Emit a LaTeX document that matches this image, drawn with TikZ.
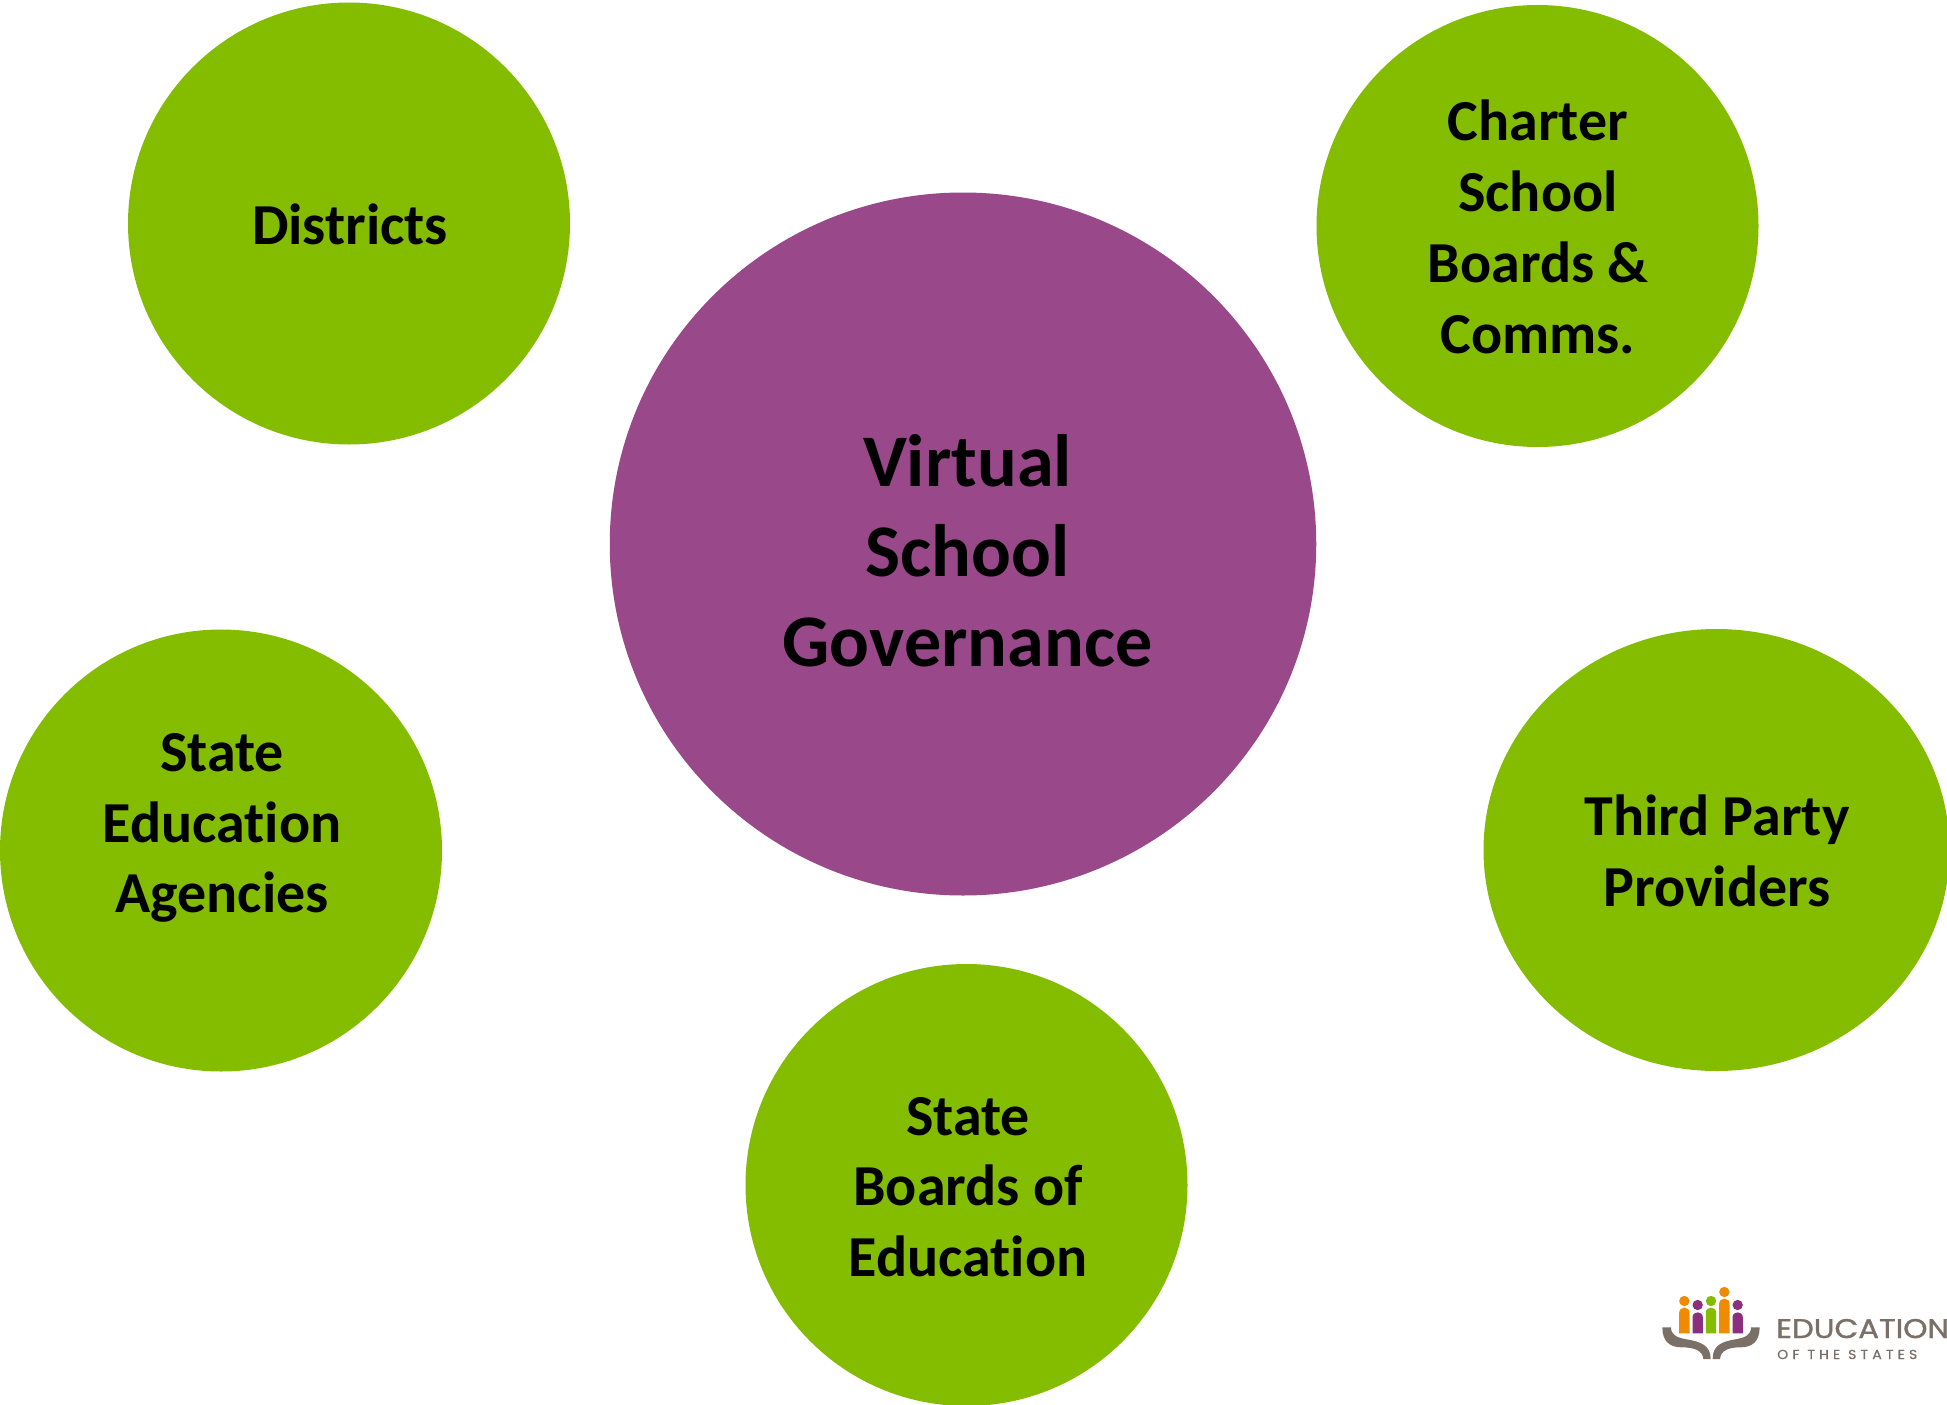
\documentclass[tikz,border=0pt]{standalone}
\usepackage{fontspec}
\setmainfont[Ligatures=NoCommon]{Carlito}
\newfontfamily\logofont[FakeStretch=1.14,FakeBold=1.2]{Poppins}
\newfontfamily\logosmall[LetterSpace=32,FakeStretch=1.08,FakeBold=0.6]{Poppins}
\usetikzlibrary{shapes.geometric}
\definecolor{bubblegreen}{HTML}{84BD00}
\definecolor{bubblepurple}{HTML}{99488A}
\definecolor{logoorange}{HTML}{F08A00}
\definecolor{logopurple}{HTML}{8B2F7E}
\definecolor{logogray}{HTML}{7A7068}
\tikzset{
  outerbubble/.style={circle,fill=bubblegreen,minimum size=442pt,inner sep=0pt},
  outertext/.style={align=center,inner sep=0pt,font=\fontsize{58}{70.8}\selectfont\bfseries},
  centertext/.style={align=center,inner sep=0pt,font=\fontsize{74.2}{90}\selectfont\bfseries}
}
\newcommand{\logoperson}[4]{%
  \fill[#4] (#1,#2) circle[radius=15.5];
  \fill[#4] (#1-15.5,190) -- (#1-15.5,#3+16) .. controls (#1-15.5,#3-4) and (#1+15.5,#3-4) .. (#1+15.5,#3+16) -- (#1+15.5,190) -- cycle;
}
\begin{document}
\begin{tikzpicture}[x=1pt,y=-1pt]
\useasboundingbox (0,0) rectangle (1947,1405);
\fill[white] (0,0) rectangle (1947,1405);
\node[outerbubble] (districts) at (349,223.5) {};
\node[outerbubble] (charter) at (1537.5,226) {};
\node[ellipse,fill=bubblepurple,minimum width=706.5pt,minimum height=703pt,inner sep=0pt] (center) at (963,544) {};
\node[outerbubble] (sea) at (221,850.5) {};
\node[ellipse,fill=bubblegreen,minimum width=466pt,minimum height=442pt,inner sep=0pt] (third) at (1716.5,850) {};
\node[outerbubble] (boards) at (966.5,1185) {};
\node[outertext] (t1) at (350,224) {Districts};
\node[outertext] (t2) at (1538,227) {Charter\\School\\Boards \&\\Comms.};
\node[centertext] (t3) at (967.5,551) {Virtual\\School\\Governance};
\node[outertext] (t4) at (222,828) {State\\Education\\Agencies};
\node[outertext] (t5) at (1717,851) {Third Party\\Providers};
\node[outertext] (t6) at (968,1187) {State\\Boards of\\Education};
\begin{scope}[shift={(1640,1270)},x=0.3333pt,y=-0.3333pt]
  \logoperson{133}{93}{112}{logoorange}
  \logoperson{173}{105}{126}{logopurple}
  \logoperson{213}{93}{112}{bubblegreen}
  \logoperson{253}{66}{85}{logoorange}
  \logoperson{293}{105}{126}{logopurple}
  \fill[logogray] (67,172) -- (93,172) .. controls (93,195) and (110,203) .. (140,208) .. controls (180,215) and (212,225) .. (212,267) -- (190,267) .. controls (188,240) and (160,232) .. (125,232) .. controls (90,232) and (67,215) .. (67,172) -- cycle;
  \fill[logogray] (359,172) -- (333,172) .. controls (333,195) and (316,203) .. (286,208) .. controls (246,215) and (218,225) .. (218,267) -- (240,267) .. controls (242,240) and (268,232) .. (301,232) .. controls (336,232) and (359,215) .. (359,172) -- cycle;
\end{scope}
\node[anchor=base west,inner sep=0pt,text=logogray,font=\fontsize{27}{27}\logofont] (logoA) at (1776,1338) {EDUCATION};
\node[anchor=base west,inner sep=0pt,text=logogray,font=\fontsize{13}{13}\logosmall] (logoB) at (1777,1359) {OF THE STATES};
\end{tikzpicture}
\end{document}
